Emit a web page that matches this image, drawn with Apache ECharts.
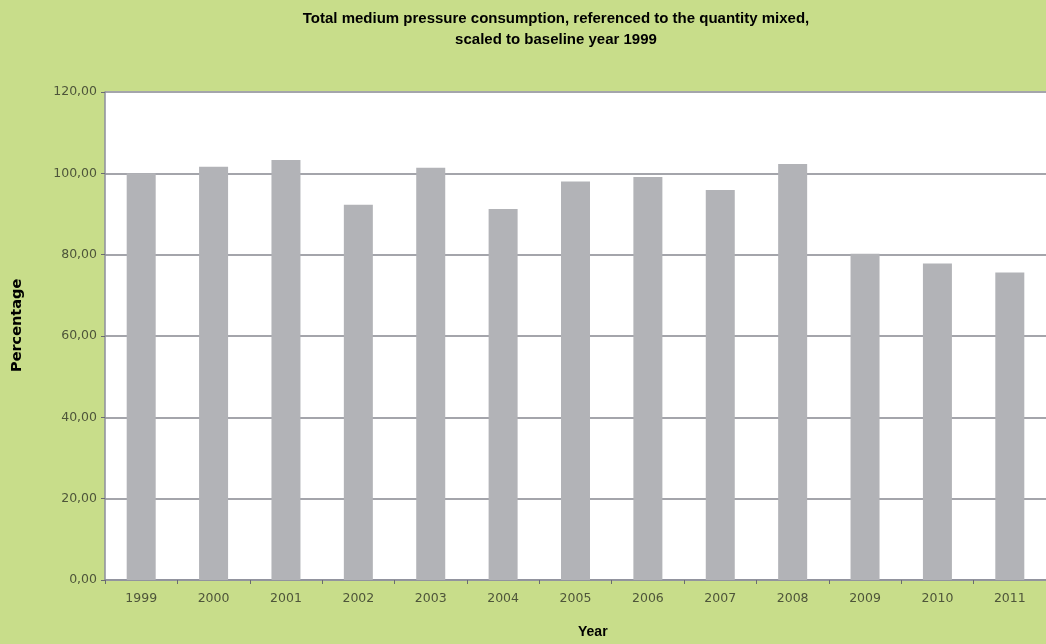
<!DOCTYPE html>
<html><head><meta charset="utf-8">
<script src="https://cdn.jsdelivr.net/npm/echarts@6/dist/echarts.min.js"></script>
<style>html,body{margin:0;padding:0;background:#c8dd8a;}#c{width:1046px;height:644px;}</style>
</head><body><div id="c"></div>
<script>
const categories = ['1999','2000','2001','2002','2003','2004','2005','2006','2007','2008','2009','2010','2011'];
const values = [100.0, 101.6, 103.3, 92.3, 101.4, 91.2, 98.0, 99.1, 95.9, 102.3, 80.2, 77.8, 75.6];
const titleLines = ['Total medium pressure consumption, referenced to the quantity mixed,', 'scaled to baseline year 1999'];
const xName = 'Year';
const yName = 'Percentage';

const chart = echarts.init(document.getElementById('c'), null, {renderer:'canvas'});
chart.setOption({
  backgroundColor: '#c8dd8a',
  animation: false,
  title: {
    text: titleLines.join('\n'),
    left: 551, top: 3, textAlign: 'center',
    textStyle: {fontFamily: 'Liberation Sans, Arial', fontWeight: 'bold', fontSize: 15, color: '#000', lineHeight: 21}
  },
  graphic: [
    {type: 'text', left: 578, top: 625,
     style: {text: xName, font: 'bold 14px "Liberation Sans", Arial', fill: '#000'}},
    {type: 'text', x: 10, y: 372, rotation: Math.PI / 2, originX: 0, originY: 0,
     style: {text: yName, font: 'bold 14.5px "DejaVu Sans"', fill: '#000', textAlign: 'left', textVerticalAlign: 'top'}}
  ],
  grid: {left: 105, top: 92, width: 949, height: 488, containLabel: false,
         show: true, backgroundColor: '#ffffff', borderWidth: 0},
  xAxis: {
    type: 'category', data: categories,
    axisLine: {show: true, lineStyle: {color: '#8c8e9c', width: 1.5}},
    axisTick: {show: true, alignWithLabel: false, length: 4, lineStyle: {color: '#6a6c70'}},
    axisLabel: {fontFamily: 'DejaVu Sans', fontSize: 12.5, color: '#4e553a', margin: 12}
  },
  yAxis: {
    type: 'value', min: 0, max: 120, interval: 20,
    axisLine: {show: true, lineStyle: {color: '#8c8e9c', width: 1.5}},
    axisTick: {show: true, length: 4, lineStyle: {color: '#6a6c70'}},
    axisLabel: {fontFamily: 'DejaVu Sans', fontSize: 12.5, color: '#4e553a', margin: 8,
                formatter: v => v.toFixed(2).replace('.', ',')},
    splitLine: {show: true, lineStyle: {color: '#a4a5ab', width: 2}}
  },
  series: [{
    type: 'bar', data: values, barWidth: 29,
    itemStyle: {color: '#b2b3b7'}
  }]
});
</script></body></html>
